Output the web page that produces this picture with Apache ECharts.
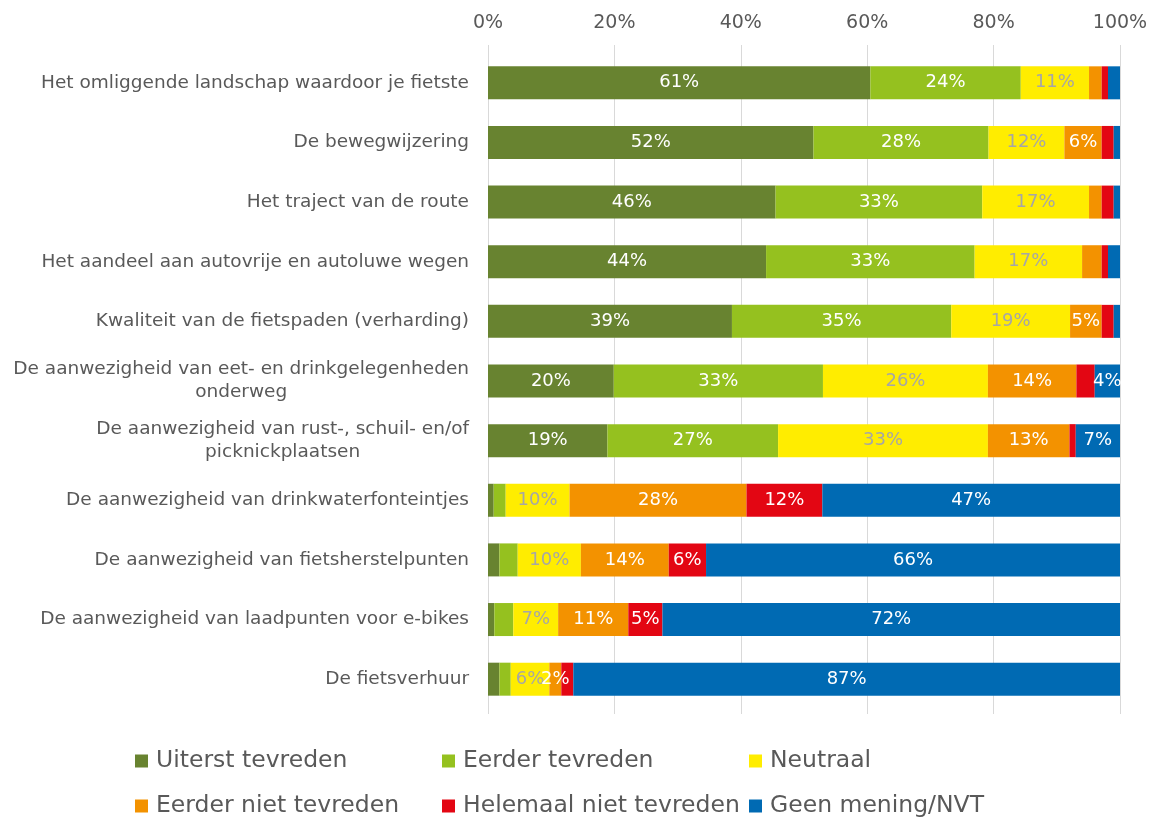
<!DOCTYPE html>
<html>
<head>
<meta charset="utf-8">
<script src="https://cdn.jsdelivr.net/npm/echarts@6/dist/echarts.min.js"></script>
<style>html,body{margin:0;padding:0;background:#fff}#c{width:1153px;height:817px}</style>
</head>
<body>
<div id="c"></div>
<script>
const categories = [
  "Het omliggende landschap waardoor je fietste",
  "De bewegwijzering",
  "Het traject van de route",
  "Het aandeel aan autovrije en autoluwe wegen",
  "Kwaliteit van de fietspaden (verharding)",
  "De aanwezigheid van eet- en drinkgelegenheden\nonderweg",
  "De aanwezigheid van rust-, schuil- en/of\npicknickplaatsen",
  "De aanwezigheid van drinkwaterfonteintjes",
  "De aanwezigheid van fietsherstelpunten",
  "De aanwezigheid van laadpunten voor e-bikes",
  "De fietsverhuur"
];
const seriesNames = ["Uiterst tevreden","Eerder tevreden","Neutraal","Eerder niet tevreden","Helemaal niet tevreden","Geen mening/NVT"];
const uiterstTevreden   = [60.5, 51.5, 45.5, 44.0, 38.6, 19.9, 18.9, 0.9, 1.8, 1.0, 1.8];
const eerderTevreden    = [23.8, 27.7, 32.7, 33.0, 34.7, 33.1, 27.0, 1.9, 2.9, 3.0, 1.8];
const neutraal          = [10.8, 12.0, 16.9, 17.0, 18.8, 26.1, 33.2, 10.1, 10.0, 7.1, 6.1];
const eerderNiet        = [2.0, 5.9, 2.0, 3.1, 5.0, 14.0, 12.9, 28.0, 13.9, 11.1, 1.9];
const helemaalNiet      = [1.0, 1.9, 1.9, 1.0, 1.9, 2.9, 1.0, 12.0, 5.9, 5.4, 1.9];
const geenMening        = [1.9, 1.0, 1.0, 1.9, 1.0, 4.0, 7.0, 47.1, 65.5, 72.4, 86.5];
const xTicks = [0, 20, 40, 60, 80, 100];
// extra labels shown on small segments: [seriesIndex, categoryIndex]
const extraLabels = [[3, 10]];

const allValues = [uiterstTevreden, eerderTevreden, neutraal, eerderNiet, helemaalNiet, geenMening];
const colors = ["#688330", "#95c11f", "#ffed00", "#f39200", "#e30613", "#006ab3"];
const labelColors = ["#ffffff", "#ffffff", "#a6a6a6", "#ffffff", "#ffffff", "#ffffff"];
const FONT = "DejaVu Sans";
const textGray = "#595959";

const series = allValues.map((vals, si) => ({
  name: seriesNames[si],
  type: 'bar',
  stack: 'total',
  barWidth: 33,
  itemStyle: { color: colors[si] },
  label: {
    color: labelColors[si],
    fontFamily: FONT,
    fontSize: 18,
    position: 'inside',
    formatter: p => Math.round(p.value) + '%'
  },
  data: vals.map((v, ci) => ({
    value: v,
    label: { show: v >= 3.5 || extraLabels.some(e => e[0] === si && e[1] === ci) }
  }))
}));

const legendLefts = [130, 437, 744];
const legendTops = [744, 789];
const legends = seriesNames.map((n, i) => ({
  data: [n],
  left: legendLefts[i % 3],
  top: legendTops[Math.floor(i / 3)],
  itemWidth: 13, itemHeight: 13, itemGap: 0,
  icon: 'rect',
  textStyle: { color: textGray, fontFamily: FONT, fontSize: 23.5, padding: [0, 0, 0, 3] }
}));

const chart = echarts.init(document.getElementById('c'), null, { renderer: 'canvas' });
chart.setOption({
  backgroundColor: '#fff',
  animation: false,
  grid: { left: 488, right: 33, top: 53, bottom: 108, containLabel: false },
  xAxis: [{
    type: 'value',
    position: 'top',
    min: 0, max: 100, interval: 20,
    axisLine: { show: false },
    axisTick: { show: true, length: 8, lineStyle: { color: '#d9d9d9' } },
    splitLine: { show: true, lineStyle: { color: '#d9d9d9', width: 1 } },
    axisLabel: {
      margin: 20,
      color: textGray, fontFamily: FONT, fontSize: 19,
      formatter: v => (xTicks.includes(v) ? v + '%' : '')
    }
  }, {
    type: 'value',
    position: 'bottom',
    min: 0, max: 100, interval: 20,
    axisLine: { show: false },
    axisTick: { show: true, length: 5, lineStyle: { color: '#d9d9d9' } },
    splitLine: { show: false },
    axisLabel: { show: false }
  }],
  yAxis: {
    type: 'category',
    inverse: true,
    data: categories,
    axisLine: { show: false },
    axisTick: { show: false },
    axisLabel: {
      margin: 19,
      color: textGray, fontFamily: FONT, fontSize: 18.5,
      formatter: v => v.split('\n').map(s => '{c|' + s + '}').join('\n'),
      rich: { c: { align: 'center', color: textGray, fontFamily: FONT, fontSize: 18.5, lineHeight: 23 } }
    }
  },
  legend: legends,
  series: series
});
</script>
</body>
</html>
